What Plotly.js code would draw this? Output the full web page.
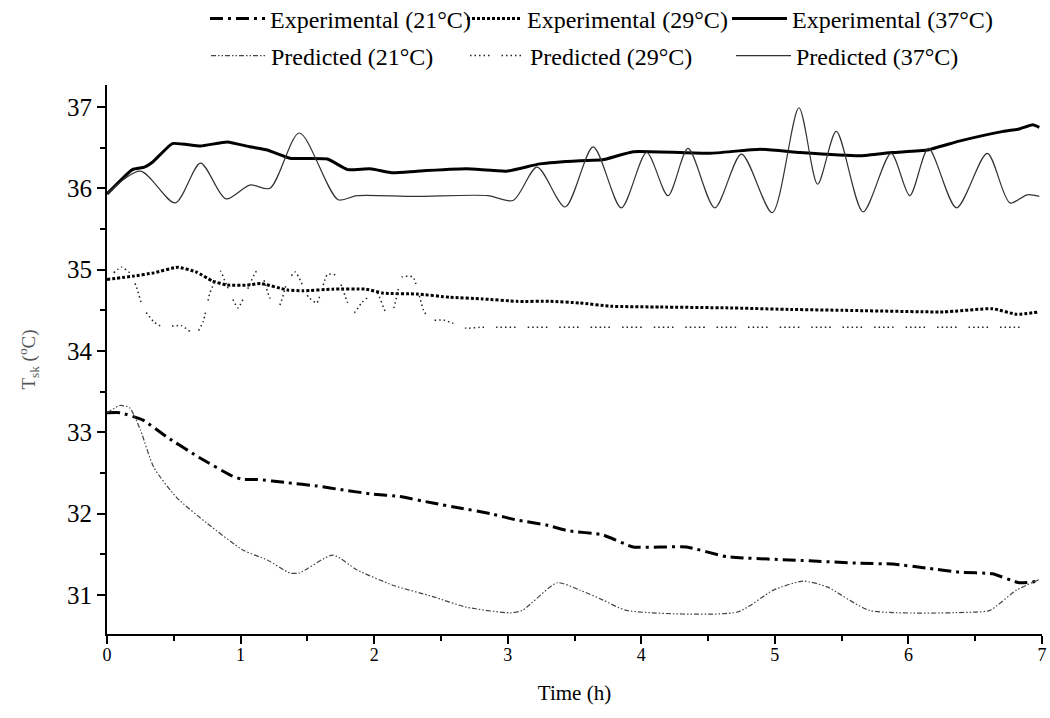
<!DOCTYPE html>
<html>
<head>
<meta charset="utf-8">
<script src="https://cdn.plot.ly/plotly-3.0.1.min.js"></script>
<style>html,body{margin:0;padding:0;background:#fff;}#chart{width:1050px;height:718px;}</style>
</head>
<body>
<div id="chart"></div>
<script>
// Experimental (21°C)
const exp21_t = [0, 0.1, 0.27, 0.45, 0.70, 0.94, 1.02, 1.12, 1.35, 1.57, 1.77, 1.99, 2.19, 2.44, 2.64, 2.87, 3.07, 3.29, 3.45, 3.71, 3.94, 4.34, 4.64, 5.26, 5.64, 5.88, 6.14, 6.38, 6.63, 6.83, 6.98];
const exp21_y = [33.24, 33.24, 33.15, 32.94, 32.68, 32.46, 32.42, 32.42, 32.38, 32.34, 32.29, 32.24, 32.21, 32.13, 32.07, 32.00, 31.92, 31.86, 31.79, 31.74, 31.59, 31.59, 31.47, 31.42, 31.39, 31.38, 31.33, 31.28, 31.26, 31.15, 31.17];
// Experimental (29°C)
const exp29_t = [0, 0.2, 0.35, 0.53, 0.67, 0.79, 0.90, 1.05, 1.15, 1.35, 1.47, 1.69, 1.94, 2.07, 2.32, 2.57, 2.81, 3.07, 3.32, 3.54, 3.77, 4.14, 4.64, 5.13, 5.51, 6.26, 6.63, 6.81, 6.98];
const exp29_y = [34.88, 34.92, 34.96, 35.03, 34.97, 34.86, 34.81, 34.81, 34.83, 34.75, 34.74, 34.76, 34.76, 34.71, 34.70, 34.66, 34.64, 34.61, 34.61, 34.59, 34.55, 34.54, 34.53, 34.51, 34.50, 34.48, 34.52, 34.45, 34.48];
// Experimental (37°C)
const exp37_t = [0, 0.19, 0.28, 0.34, 0.49, 0.70, 0.90, 1.07, 1.20, 1.37, 1.65, 1.80, 1.97, 2.14, 2.32, 2.69, 2.99, 3.24, 3.54, 3.71, 3.94, 4.51, 4.89, 5.19, 5.64, 5.88, 6.14, 6.38, 6.71, 6.83, 6.93, 6.98];
const exp37_y = [35.93, 36.23, 36.26, 36.32, 36.55, 36.52, 36.57, 36.51, 36.47, 36.37, 36.36, 36.23, 36.24, 36.19, 36.21, 36.24, 36.21, 36.30, 36.34, 36.35, 36.45, 36.43, 36.48, 36.44, 36.40, 36.44, 36.47, 36.58, 36.70, 36.73, 36.78, 36.75];
// Predicted (21°C)
const pre21_t = [0, 0.1, 0.17, 0.25, 0.35, 0.52, 0.75, 1.02, 1.20, 1.37, 1.44, 1.69, 1.87, 2.14, 2.44, 2.69, 3.02, 3.11, 3.37, 3.54, 3.71, 3.89, 4.72, 4.99, 5.21, 5.39, 5.71, 6.51, 6.61, 6.81, 6.98];
const pre21_y = [33.24, 33.33, 33.30, 33.03, 32.57, 32.20, 31.88, 31.55, 31.43, 31.27, 31.27, 31.49, 31.31, 31.12, 30.98, 30.85, 30.78, 30.81, 31.15, 31.06, 30.94, 30.81, 30.79, 31.06, 31.17, 31.10, 30.81, 30.79, 30.81, 31.06, 31.19];
// Predicted (29°C)
const pre29_t = [0.05, 0.11, 0.17, 0.22, 0.27, 0.35, 0.41, 0.56, 0.66, 0.72, 0.77, 0.85, 0.88, 0.98, 1.05, 1.12, 1.17, 1.22, 1.29, 1.35, 1.41, 1.51, 1.57, 1.65, 1.72, 1.80, 1.85, 1.91, 2.02, 2.09, 2.14, 2.21, 2.29, 2.37, 2.42, 2.52, 2.59, 2.69, 2.79, 3.5, 4.5, 5.5, 6.92];
const pre29_y = [34.96, 35.03, 34.96, 34.79, 34.53, 34.36, 34.30, 34.31, 34.20, 34.36, 34.71, 34.98, 34.87, 34.53, 34.75, 34.98, 34.89, 34.65, 34.56, 34.85, 34.97, 34.66, 34.59, 34.94, 34.93, 34.60, 34.47, 34.60, 34.72, 34.47, 34.50, 34.91, 34.91, 34.50, 34.38, 34.38, 34.34, 34.28, 34.29, 34.29, 34.29, 34.29, 34.29];
// Predicted (37°C)
const pre37_t = [0, 0.25, 0.51, 0.70, 0.89, 1.07, 1.22, 1.44, 1.73, 1.87, 2.30, 2.85, 3.04, 3.22, 3.43, 3.64, 3.85, 4.04, 4.20, 4.35, 4.55, 4.75, 4.98, 5.18, 5.32, 5.46, 5.66, 5.87, 6.01, 6.15, 6.36, 6.59, 6.76, 6.89, 6.98];
const pre37_y = [35.93, 36.21, 35.82, 36.31, 35.87, 36.04, 36.00, 36.68, 35.86, 35.91, 35.90, 35.91, 35.85, 36.26, 35.77, 36.51, 35.76, 36.44, 35.91, 36.49, 35.76, 36.42, 35.70, 36.99, 36.05, 36.70, 35.71, 36.43, 35.91, 36.49, 35.76, 36.43, 35.82, 35.92, 35.90];

const names = ['Experimental (21°C)', 'Experimental (29°C)', 'Experimental (37°C)', 'Predicted (21°C)', 'Predicted (29°C)', 'Predicted (37°C)'];

const serif = 'Liberation Serif, Times New Roman, serif';

const traces = [
  {x: exp21_t, y: exp21_y, name: names[0], legend: 'legend', mode: 'lines', line: {color: '#000', width: 3, shape: 'spline', smoothing: 0.4, dash: '13px,5px,3px,5px'}},
  {x: exp29_t, y: exp29_y, name: names[1], legend: 'legend2', mode: 'lines', line: {color: '#000', width: 3, shape: 'spline', smoothing: 0.4, dash: '3px,2px'}},
  {x: exp37_t, y: exp37_y, name: names[2], legend: 'legend3', mode: 'lines', line: {color: '#000', width: 3, shape: 'spline', smoothing: 0.4}},
  {x: pre21_t, y: pre21_y, name: names[3], legend: 'legend4', mode: 'lines', line: {color: '#444', width: 1.2, shape: 'spline', smoothing: 0.6, dash: '5px,2px,1.5px,2px,1.5px,2px'}},
  {x: pre29_t, y: pre29_y, name: names[4], legend: 'legend5', mode: 'lines', line: {color: '#222', width: 1.5, shape: 'spline', smoothing: 0.5, dash: '1.5px,3px,1.5px,3px,1.5px,3px,1.5px,3px,1.5px,12px'}},
  {x: pre37_t, y: pre37_y, name: names[5], legend: 'legend6', mode: 'lines', line: {color: '#333', width: 1.2, shape: 'spline', smoothing: 0.8}}
];

function leg(px, py) {
  return {
    orientation: 'h', xref: 'container', yref: 'container', xanchor: 'left', yanchor: 'middle',
    x: px / 1050, y: 1 - py / 718,
    font: {family: serif, size: 24, color: '#000'},
    itemwidth: 55,
    bgcolor: 'rgba(0,0,0,0)', borderwidth: 0
  };
}

const layout = {
  width: 1050, height: 718,
  margin: {l: 107, r: 8, t: 85, b: 84},
  paper_bgcolor: '#fff', plot_bgcolor: '#fff',
  font: {family: serif, color: '#000'},
  showlegend: true,
  legend: leg(205, 19),
  legend2: leg(462, 19),
  legend3: leg(727, 19),
  legend4: leg(206, 56),
  legend5: leg(465, 56),
  legend6: leg(731, 56),
  xaxis: {
    range: [0, 7], showgrid: false, zeroline: false,
    showline: true, linecolor: '#000', linewidth: 2,
    ticks: 'outside', ticklen: 8, tickwidth: 2, tickcolor: '#000',
    dtick: 1, tick0: 0, ticklabelstandoff: -5,
    minor: {ticks: 'outside', ticklen: 5, tickwidth: 2, tickcolor: '#000', dtick: 0.5},
    tickfont: {family: serif, size: 18, color: '#000'},
    title: {text: 'Time (h)', font: {family: serif, size: 21, color: '#000'}, standoff: 22}
  },
  yaxis: {
    range: [30.52, 37.27], showgrid: false, zeroline: false,
    showline: true, linecolor: '#000', linewidth: 2,
    ticks: 'outside', ticklen: 8, tickwidth: 2, tickcolor: '#000',
    dtick: 1, tick0: 31,
    minor: {ticks: 'outside', ticklen: 5, tickwidth: 2, tickcolor: '#000', dtick: 0.5},
    tickfont: {family: serif, size: 25, color: '#000'},
    title: {text: 'T<sub>sk</sub> (<sup>o</sup>C)', font: {family: serif, size: 19, color: '#555'}, standoff: 26}
  }
};

Plotly.newPlot('chart', traces, layout, {displayModeBar: false, staticPlot: true});
</script>
</body>
</html>
